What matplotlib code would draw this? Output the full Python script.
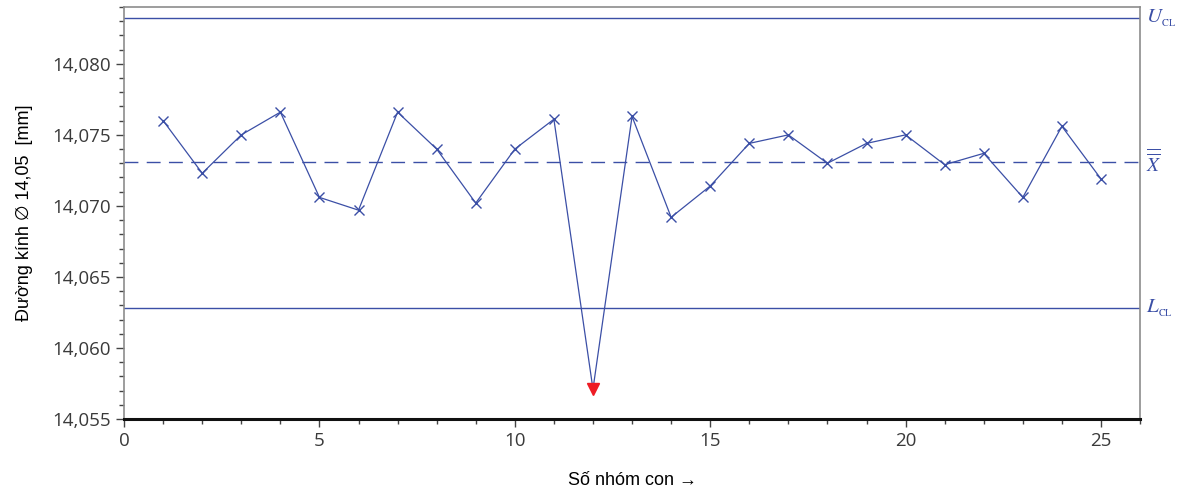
import matplotlib
matplotlib.use("Agg")
import matplotlib.pyplot as plt
from matplotlib.ticker import MultipleLocator, FuncFormatter

# Subgroup means of the shaft diameter
subgroups = list(range(1, 26))
means = [14.0760, 14.0723, 14.0750, 14.0766, 14.0706, 14.0697, 14.0766, 14.0740,
         14.0702, 14.0740, 14.0761, 14.0571, 14.0763, 14.0692, 14.0714, 14.0744,
         14.0750, 14.0730, 14.0744, 14.0750, 14.0729, 14.0737, 14.0706, 14.0756,
         14.0719]
ucl = 14.0832
center = 14.0731
lcl = 14.0628

blue = "#3b4fa6"
plt.rcParams["mathtext.fontset"] = "stix"

fig = plt.figure(figsize=(11.77, 4.90), dpi=100)
ax = fig.add_axes([0.1054, 0.1449, 0.8632, 0.8408])

ax.axhline(ucl, color=blue, lw=1.0)
ax.axhline(lcl, color=blue, lw=1.0)
ax.axhline(center, color=blue, lw=1.0, dashes=(10, 6))

# points inside the limits as crosses, points outside flagged in red
ax.plot(subgroups, means, color=blue, lw=0.9)
inside = [(x, y) for x, y in zip(subgroups, means) if lcl <= y <= ucl]
outside = [(x, y) for x, y in zip(subgroups, means) if not (lcl <= y <= ucl)]
ax.plot([p[0] for p in inside], [p[1] for p in inside], ls="none",
        marker="x", ms=7, mew=1.0, color=blue)
ax.plot([p[0] for p in outside], [p[1] for p in outside], ls="none",
        marker="v", ms=9, color="#ee1c25", mec="#ee1c25")

ax.set_xlim(0, 26)
ax.set_ylim(14.055, 14.0840)
ax.xaxis.set_major_locator(MultipleLocator(5))
ax.xaxis.set_minor_locator(MultipleLocator(1))
ax.yaxis.set_major_locator(MultipleLocator(0.005))
ax.yaxis.set_minor_locator(MultipleLocator(0.001))
ax.yaxis.set_major_formatter(FuncFormatter(lambda v, p: f"{v:.3f}".replace(".", ",")))
ax.xaxis.set_major_formatter(FuncFormatter(lambda v, p: f"{v:.0f}"))

for side in ("left", "top", "right"):
    ax.spines[side].set_color("#8c8c8c")
    ax.spines[side].set_linewidth(1.2)
ax.spines["bottom"].set_color("#111111")
ax.spines["bottom"].set_linewidth(2.2)

ax.tick_params(axis="both", which="major", length=6, width=1.0, color="#444444",
               labelsize=13.5, labelcolor="#3a3a3a", direction="out")
ax.tick_params(axis="both", which="minor", length=3.5, width=1.0, color="#444444",
               direction="out")
for lab in ax.get_xticklabels() + ax.get_yticklabels():
    lab.set_fontfamily("Open Sans")

ax.set_ylabel("Đường kính ∅ 14,05  [mm]", fontsize=13,
              family=["Liberation Sans", "DejaVu Sans"], labelpad=14)
ax.set_xlabel("Số nhóm con →", fontsize=13,
              family=["Liberation Sans", "DejaVu Sans"], labelpad=16)

trans = ax.get_yaxis_transform()
ax.text(1.006, ucl, r"$U_{\mathrm{_{CL}}}$", transform=trans, color=blue,
        fontsize=15, va="center", ha="left")
ax.text(1.006, lcl, r"$L_{\mathrm{_{CL}}}$", transform=trans, color=blue,
        fontsize=15, va="center", ha="left")
ax.text(1.006, center, r"$\overline{\overline{X}}$", transform=trans, color=blue,
        fontsize=14, va="center", ha="left")

fig.savefig("out.png", dpi=100, facecolor="white")
